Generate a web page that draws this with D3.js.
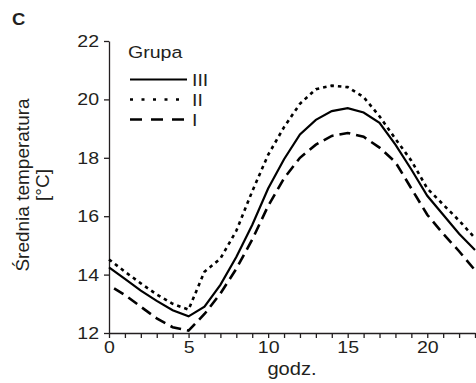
<!DOCTYPE html>
<html>
<head>
<meta charset="utf-8">
<script src="https://cdn.jsdelivr.net/npm/d3@7"></script>
<style>
  body { margin: 0; background: #fff; }
  text { font-family: "Liberation Sans", Arial, sans-serif; fill: #231f20; }
</style>
</head>
<body>
<div id="chart"></div>
<script>
// hours of the day
const hours = d3.range(0, 24);

// mean temperature per group
const groupIII = [14.25, 13.85, 13.45, 13.1, 12.78, 12.57, 12.9, 13.65, 14.6, 15.7, 16.95, 17.95,
  18.8, 19.3, 19.6, 19.7, 19.55, 19.2, 18.45, 17.6, 16.7, 16.05, 15.4, 14.84];
const groupII = [14.52, 14.1, 13.7, 13.32, 13.0, 12.8, 14.1, 14.55, 15.5, 16.85, 18.1, 19.05,
  19.85, 20.35, 20.47, 20.42, 20.08, 19.42, 18.65, 17.9, 16.95, 16.4, 15.85, 15.25];
const groupI = [13.64, 13.3, 12.9, 12.5, 12.2, 12.08, 12.65, 13.35, 14.2, 15.2, 16.35, 17.3,
  18.0, 18.45, 18.75, 18.85, 18.72, 18.35, 17.85, 16.95, 16.05, 15.4, 14.8, 14.15];

const groupNames = ["III", "II", "I"];
const yTicks = [12, 14, 16, 18, 20, 22];

const width = 476, height = 383;
const sx = 1.15; // horizontal text stretch seen in the original

const svg = d3.select("#chart").append("svg")
  .attr("width", width)
  .attr("height", height);

const x = d3.scaleLinear().domain([0, 23]).range([109, 475]);
const y = d3.scaleLinear().domain([12, 22]).range([333, 41]);

// line styles per group
const styles = {
  III: { dash: null, w: 2.2, offset: 0 },
  II: { dash: "3.5,4", w: 2.6, offset: 0 },
  I: { dash: "11,6", w: 2.6, offset: 11 }
};

// x axis
const xAxis = svg.append("g")
  .attr("transform", `translate(0,${y(12)})`)
  .call(d3.axisBottom(x)
    .tickValues(hours)
    .tickSize(5)
    .tickSizeOuter(0)
    .tickPadding(3)
    .tickFormat(d => d % 5 === 0 ? d : ""));

// y axis
const yAxis = svg.append("g")
  .attr("transform", `translate(${x(0)},0)`)
  .call(d3.axisLeft(y)
    .tickValues(yTicks)
    .tickSize(5)
    .tickSizeOuter(0)
    .tickPadding(3.7));

[xAxis, yAxis].forEach(g => {
  g.selectAll("path, line").attr("stroke", "#231f20").attr("stroke-width", 1.3);
  g.selectAll("text")
    .style("font-size", "17px")
    .attr("fill", "#231f20")
    .attr("transform", `scale(${sx},1)`);
});

// series
const series = [
  { name: "III", values: groupIII },
  { name: "II", values: groupII },
  { name: "I", values: groupI }
];

const line = d3.line()
  .x((d, i) => x(hours[i]))
  .y(d => y(d));

svg.selectAll(".series")
  .data(series)
  .join("path")
  .attr("class", "series")
  .attr("d", d => line(d.values))
  .attr("fill", "none")
  .attr("stroke", "#000")
  .attr("stroke-width", d => styles[d.name].w)
  .attr("stroke-dasharray", d => styles[d.name].dash)
  .attr("stroke-dashoffset", d => styles[d.name].offset);

// stretched text helper
function label(txt, px, py, size, anchor, weight) {
  svg.append("g")
    .attr("transform", `translate(${px},${py}) scale(${sx},1)`)
    .append("text")
    .attr("text-anchor", anchor || "start")
    .style("font-size", size + "px")
    .style("font-weight", weight || "normal")
    .text(txt);
}

// panel letter
label("C", 12, 25, 16, "start", "bold");

// x axis title
label("godz.", 292, 375, 17.5, "middle");

// y axis title (two lines, rotated)
const yt = svg.append("text")
  .attr("transform", `translate(29,185) rotate(-90)`)
  .attr("text-anchor", "middle")
  .style("font-size", "19px");
yt.append("tspan").attr("x", 0).attr("dy", 0).text("Średnia temperatura");
yt.append("tspan").attr("x", 0).attr("dy", "1.05em").text("[°C]");

// legend
label("Grupa", 128, 58, 17, "start");
const legend = svg.append("g")
  .selectAll("g")
  .data(groupNames)
  .join("g")
  .attr("transform", (d, i) => `translate(130,${79.5 + i * 20})`);

legend.append("line")
  .attr("x1", 0).attr("x2", 57)
  .attr("y1", 0).attr("y2", 0)
  .attr("stroke", "#000")
  .attr("stroke-width", d => styles[d].w)
  .attr("stroke-dasharray", d => d === "II" ? "3,8.5" : (d === "I" ? "12,9" : null));

legend.each(function (d) {
  d3.select(this).append("g")
    .attr("transform", `translate(62,6) scale(${sx},1)`)
    .append("text")
    .style("font-size", "17px")
    .text(d);
});
</script>
</body>
</html>
